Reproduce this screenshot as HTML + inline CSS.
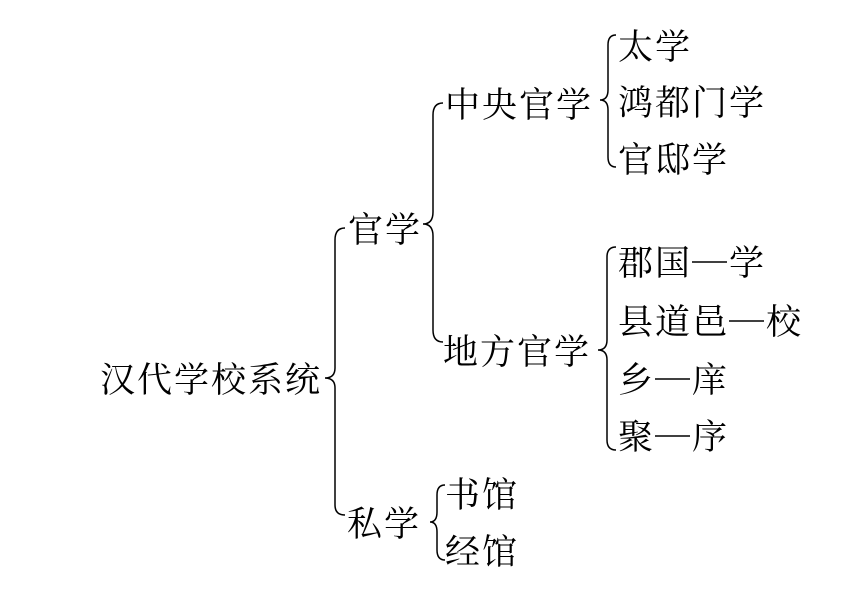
<!DOCTYPE html>
<html><head><meta charset="utf-8"><style>
html,body{margin:0;padding:0;background:#fff;}
svg text{font-family:"Noto Serif CJK SC","Liberation Serif",serif;font-size:35px;letter-spacing:2px;fill:#000;dominant-baseline:central;}
path{fill:none;stroke:#000;stroke-width:1.5;}
line{stroke:#000;stroke-width:1.5;}
</style></head><body>
<svg width="843" height="585" viewBox="0 0 843 585" xmlns="http://www.w3.org/2000/svg">
<path d="M345 228 Q335 228 335 240 L335 368 Q335 378 325 378 Q335 378 335 388 L335 505 Q335 515 345 515"/>
<path d="M443 103 Q433 103 433 115 L433 212 Q433 224 423 224 Q433 224 433 236 L433 330 Q433 342 443 342"/>
<path d="M445 485 Q437 485 437 495 L437 512 Q437 522 430 522 Q437 522 437 532 L437 550 Q437 560 445 560"/>
<path d="M616 35 Q608 35 608 45 L608 90 Q608 100 600 100 Q608 100 608 110 L608 157 Q608 167 616 167"/>
<path d="M616 247 Q607 247 607 257 L607 340 Q607 350 598 350 Q607 350 607 360 L607 440 Q607 450 616 450"/>
<text x="100" y="378">汉代学校系统</text>
<text x="348" y="228">官学</text>
<text x="347" y="522">私学</text>
<text x="445" y="103">中央官学</text>
<text x="443" y="350">地方官学</text>
<text x="445" y="493">书馆</text>
<text x="445" y="550">经馆</text>
<text x="618" y="45">太学</text>
<text x="618" y="101">鸿都门学</text>
<text x="618" y="158">官邸学</text>
<text x="618" y="261">郡国</text><line x1="692" y1="262" x2="727" y2="262"/><text x="729" y="261">学</text>
<text x="618" y="320">县道邑</text><line x1="729" y1="321" x2="764" y2="321"/><text x="766" y="320">校</text>
<text x="618" y="378">乡</text><line x1="655" y1="379" x2="690" y2="379"/><text x="692" y="378">庠</text>
<text x="618" y="435">聚</text><line x1="655" y1="436" x2="690" y2="436"/><text x="692" y="435">序</text>
</svg>
</body></html>
